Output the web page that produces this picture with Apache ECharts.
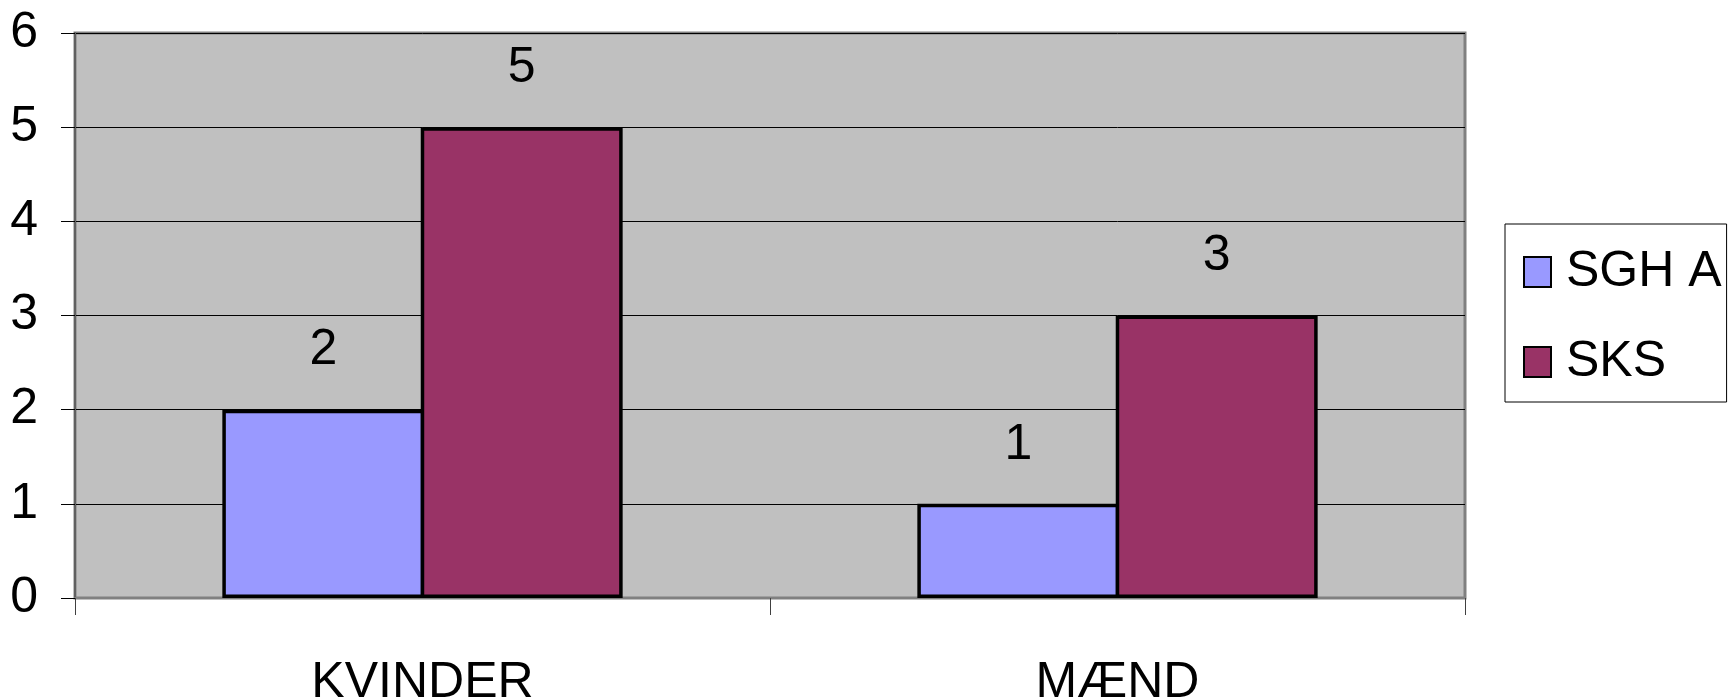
<!DOCTYPE html>
<html>
<head>
<meta charset="utf-8">
<script src="https://cdn.jsdelivr.net/npm/echarts@6/dist/echarts.min.js"></script>
<style>
html,body{margin:0;padding:0;background:#fff;}
#chart{width:1736px;height:699px;}
</style>
</head>
<body>
<div id="chart"></div>
<script>
const categories = ['KVINDER', 'MÆND'];
const seriesNames = ['SGH A', 'SKS'];
const sghA = [2, 1];
const sks = [5, 3];
const yTicks = [0, 1, 2, 3, 4, 5, 6];

const FONT = '"Liberation Sans", Arial, sans-serif';
const chart = echarts.init(document.getElementById('chart'), null, {renderer: 'canvas'});

chart.setOption({
  animation: false,
  backgroundColor: '#ffffff',
  textStyle: {fontFamily: FONT},
  grid: {
    left: 75, top: 33, right: 271, bottom: 101,
    containLabel: false,
    outerBoundsMode: 'none',
    show: true,
    backgroundColor: '#C0C0C0',
    borderColor: '#808080',
    borderWidth: 3
  },
  legend: {
    orient: 'vertical',
    left: 1505,
    top: 224,
    data: seriesNames,
    icon: 'rect',
    itemWidth: 27,
    itemHeight: 30,
    itemGap: 40,
    padding: [23, 5, 15, 18],
    backgroundColor: '#ffffff',
    borderColor: '#000000',
    borderWidth: 1,
    textStyle: {fontFamily: FONT, fontSize: 50, color: '#000', lineHeight: 50, padding: [0, 0, 0, 10]}
  },
  xAxis: {
    type: 'category',
    data: categories,
    axisLine: {show: true, lineStyle: {color: '#808080', width: 2}},
    axisTick: {show: true, length: 17, lineStyle: {color: '#404040', width: 1}},
    axisLabel: {fontFamily: FONT, fontSize: 50, color: '#000', margin: 60},
    splitLine: {show: false}
  },
  yAxis: {
    type: 'value',
    min: yTicks[0],
    max: yTicks[yTicks.length - 1],
    interval: 1,
    axisLine: {show: true, lineStyle: {color: '#606060', width: 2}},
    axisTick: {show: true, length: 14, lineStyle: {color: '#000', width: 1}},
    axisLabel: {fontFamily: FONT, fontSize: 50, color: '#000', margin: 37},
    splitLine: {show: true, lineStyle: {color: '#000', width: 1}}
  },
  series: [
    {
      name: seriesNames[0],
      type: 'bar',
      data: sghA,
      barGap: '-1.75%',
      barCategoryGap: '42.4%',
      itemStyle: {color: '#9999FF', borderColor: '#000', borderWidth: 3.5},
      label: {show: true, position: 'top', distance: 34, fontFamily: FONT, fontSize: 50, color: '#000'}
    },
    {
      name: seriesNames[1],
      type: 'bar',
      data: sks,
      barGap: '-1.75%',
      barCategoryGap: '42.4%',
      itemStyle: {color: '#993366', borderColor: '#000', borderWidth: 3.5},
      label: {show: true, position: 'top', distance: 34, fontFamily: FONT, fontSize: 50, color: '#000'}
    }
  ]
});
</script>
</body>
</html>
